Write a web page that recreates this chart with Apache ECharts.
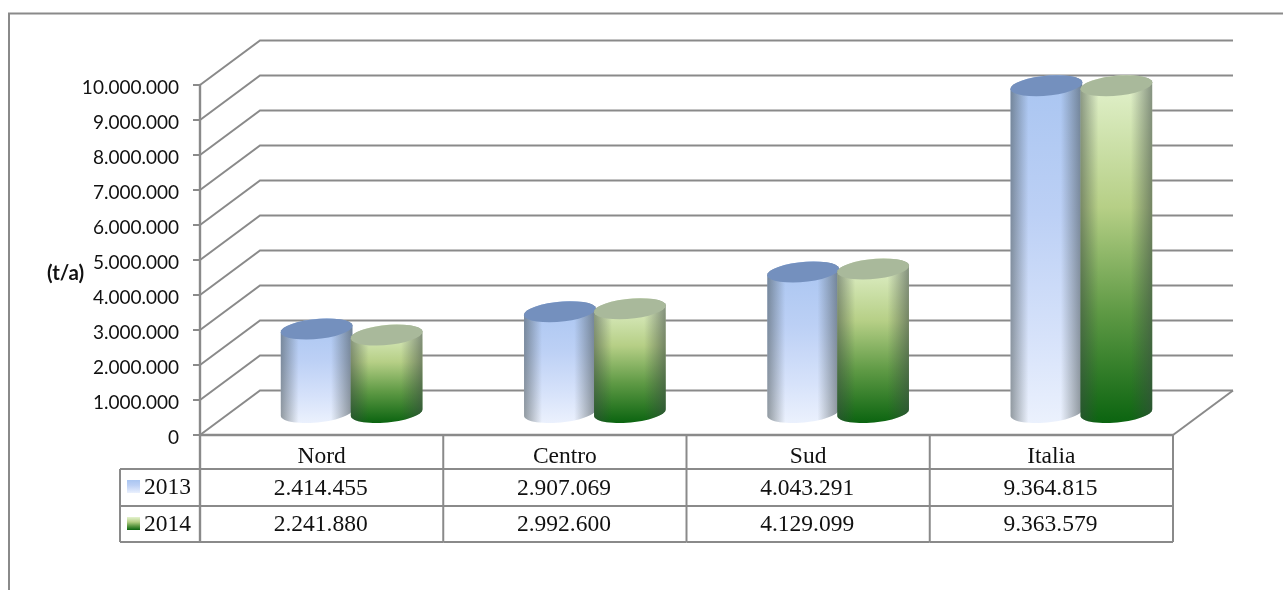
<!DOCTYPE html>
<html>
<head>
<meta charset="utf-8">
<style>html,body{margin:0;padding:0;background:#fff}#c{width:1283px;height:590px}</style>
<script src="https://cdn.jsdelivr.net/npm/echarts@6/dist/echarts.min.js"></script>
</head>
<body>
<div id="c"></div>
<script>
const categories = ['Nord', 'Centro', 'Sud', 'Italia'];
const seriesNames = ['2013', '2014'];
const values2013 = [2414455, 2907069, 4043291, 9364815];
const values2014 = [2241880, 2992600, 4129099, 9363579];
const yTicks = [0, 1000000, 2000000, 3000000, 4000000, 5000000, 6000000, 7000000, 8000000, 9000000, 10000000];
const yTitle = '(t/a)';

const LINE = '#8a8a8a';
const LW = 2;
const DX = 60, DY = 44.5, CYL_DY = 21.5;
const SERIF = '"Liberation Serif","Times New Roman",serif';
const dotted = v => String(v).replace(/\B(?=(\d{3})+$)/g, '.');

function band(a, b, c, d) {
  return { type: 'linear', x: 0, y: 0, x2: 0, y2: 1, colorStops: [a, b, c, d].map(s => ({ offset: s[0], color: s[1] })) };
}
const fills = {
  '2013': {
    body: band([0, '#a9c5f1'], [0.4, '#bcd0f5'], [0.75, '#d6e2fa'], [1, '#ebf1fd']),
    top: '#7490be',
    key: band([0, '#a9c5f1'], [0.4, '#bcd0f5'], [0.75, '#d6e2fa'], [1, '#ebf1fd'])
  },
  '2014': {
    body: band([0, '#e4f3cf'], [0.38, '#b6cf86'], [0.68, '#5f9a45'], [1, '#0b6410']),
    top: '#a9b99b',
    key: band([0, '#e4f3cf'], [0.38, '#b6cf86'], [0.68, '#5f9a45'], [1, '#0b6410'])
  }
};
const sideShade = {
  type: 'linear', x: 0, y: 0, x2: 1, y2: 0,
  colorStops: [
    { offset: 0, color: 'rgba(60,70,70,0.5)' },
    { offset: 0.25, color: 'rgba(60,70,70,0)' },
    { offset: 0.7, color: 'rgba(60,70,70,0)' },
    { offset: 1, color: 'rgba(60,70,70,0.55)' }
  ]
};

function ellipsePts(cx, cy, from, to) {
  const a = 36, b = 10, phi = -5.5 * Math.PI / 180, pts = [];
  for (let i = 0; i <= 30; i++) {
    const t = from + (to - from) * i / 30;
    pts.push([
      cx + a * Math.cos(t) * Math.cos(phi) - b * Math.sin(t) * Math.sin(phi),
      cy + a * Math.cos(t) * Math.sin(phi) + b * Math.sin(t) * Math.cos(phi)
    ]);
  }
  return pts;
}

function cylinderSeries(name, values, side) {
  return {
    type: 'custom',
    name: name,
    z: 3,
    data: values.map((v, i) => [i, v]),
    encode: { x: 0, y: 1 },
    renderItem(params, api) {
      const top = api.coord([api.value(0), api.value(1)]);
      const base = api.coord([api.value(0), 0]);
      const cx = top[0] + DX / 2 + side * 35;
      const ty = top[1] - CYL_DY, by = base[1] - CYL_DY - 1;
      const PI = Math.PI;
      const silhouette = ellipsePts(cx, by, 0, PI).concat(ellipsePts(cx, ty, PI, 2 * PI));
      return {
        type: 'group',
        children: [
          { type: 'polygon', shape: { points: silhouette }, style: { fill: fills[name].body } },
          { type: 'polygon', shape: { points: silhouette }, style: { fill: sideShade } },
          { type: 'polygon', shape: { points: ellipsePts(cx, ty, 0, 2 * PI) }, style: { fill: fills[name].top } }
        ]
      };
    }
  };
}

const wallSeries = {
  type: 'custom',
  name: 'walls',
  z: 1,
  data: yTicks.map(v => [0, v]),
  encode: { x: 0, y: 1 },
  renderItem(params, api) {
    const p = api.coord([0, api.value(1)]);
    const half = api.size([1, 0])[0] / 2;
    const x0 = p[0] - half, y = p[1];
    const right = api.coord([categories.length - 1, 0])[0] + half;
    const children = [{
      type: 'polyline',
      shape: { points: [[x0, y], [x0 + DX, y - DY], [right + DX, y - DY]] },
      style: { fill: 'none', stroke: LINE, lineWidth: LW }
    }];
    if (api.value(1) === 0) {
      children.push({
        type: 'polyline',
        shape: { points: [[right, y], [right + DX, y - DY]] },
        style: { fill: 'none', stroke: LINE, lineWidth: LW }
      });
    }
    return { type: 'group', children };
  }
};

const ROW_Y = [34, 71, 107];      // table row bottoms, below the floor line
const tableSeries = {
  type: 'custom',
  name: 'table',
  z: 2,
  data: categories.map((c, i) => [i, 0]),
  encode: { x: 0, y: 1 },
  renderItem(params, api) {
    const i = api.value(0);
    const p = api.coord([i, 0]);
    const half = api.size([1, 0])[0] / 2;
    const left = p[0] - half, right = p[0] + half, y0 = p[1];
    const line = (x1, y1, x2, y2, w) => ({
      type: 'line', shape: { x1, y1, x2, y2 },
      style: { stroke: LINE, lineWidth: w || LW }
    });
    const text = (x, y, t, align) => ({
      type: 'text', x, y,
      style: { text: t, fill: '#111', font: '23.5px ' + SERIF, align: align || 'center', verticalAlign: 'middle' }
    });
    const children = [
      line(right, y0, right, y0 + ROW_Y[2]),
      line(left, y0 + ROW_Y[0], right, y0 + ROW_Y[0]),
      line(left, y0 + ROW_Y[1], right, y0 + ROW_Y[1]),
      line(left, y0 + ROW_Y[2], right, y0 + ROW_Y[2]),
      text(p[0] - 1, y0 + 54, dotted(values2013[i])),
      text(p[0] - 1, y0 + 90, dotted(values2014[i]))
    ];
    if (i === 0) {
      const hl = 80;
      children.push(
        line(left, y0, left, y0 + ROW_Y[2], 2.4),
        line(left - hl, y0 + ROW_Y[0], left, y0 + ROW_Y[0]),
        line(left - hl, y0 + ROW_Y[1], left, y0 + ROW_Y[1]),
        line(left - hl, y0 + ROW_Y[2], left, y0 + ROW_Y[2]),
        line(left - hl, y0 + ROW_Y[0], left - hl, y0 + ROW_Y[2]),
        { type: 'rect', shape: { x: left - 73, y: y0 + 45, width: 13, height: 13 }, style: { fill: fills[seriesNames[0]].key } },
        { type: 'rect', shape: { x: left - 73, y: y0 + 82, width: 13, height: 13 }, style: { fill: fills[seriesNames[1]].key } },
        text(left - 56, y0 + 53, seriesNames[0], 'left'),
        text(left - 56, y0 + 90, seriesNames[1], 'left')
      );
    }
    return { type: 'group', children };
  }
};

const chart = echarts.init(document.getElementById('c'), null, { renderer: 'canvas' });
chart.setOption({
  animation: false,
  backgroundColor: '#fff',
  grid: { left: 200, top: 85, width: 973, height: 350, containLabel: false },
  graphic: [
    { type: 'polyline', z: 0, shape: { points: [[9, 590], [9, 13.5], [1283, 13.5]] }, style: { fill: 'none', stroke: LINE, lineWidth: LW } },
    { type: 'text', x: 47, y: 273, style: { text: yTitle, fill: '#111', font: 'bold 20.5px Lato, "Open Sans", sans-serif', verticalAlign: 'middle' } }
  ],
  xAxis: {
    type: 'category',
    data: categories,
    axisLine: { show: true, lineStyle: { color: LINE, width: 2.4 } },
    axisTick: { show: false },
    axisLabel: { color: '#111', fontFamily: SERIF, fontSize: 23.5, margin: 10 }
  },
  yAxis: {
    type: 'value',
    min: 0,
    max: 10000000,
    interval: 1000000,
    splitLine: { show: false },
    axisLine: { show: true, lineStyle: { color: LINE, width: 2.4 } },
    axisTick: { show: true, length: 7, lineStyle: { color: LINE, width: LW } },
    axisLabel: { color: '#111', fontFamily: 'Lato, "Open Sans", sans-serif', fontSize: 19, margin: 21, verticalAlign: 'top', lineHeight: 6, formatter: v => dotted(v) }
  },
  series: [
    wallSeries,
    tableSeries,
    cylinderSeries(seriesNames[0], values2013, -1),
    cylinderSeries(seriesNames[1], values2014, 1)
  ]
});
</script>
</body>
</html>
